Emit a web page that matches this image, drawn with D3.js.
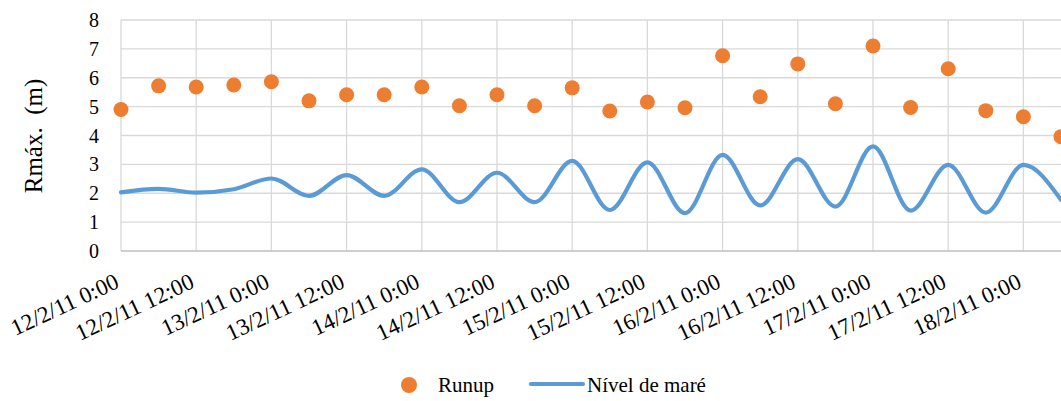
<!DOCTYPE html>
<html><head><meta charset="utf-8">
<script src="https://cdn.jsdelivr.net/npm/d3@7/dist/d3.min.js"></script>
<style>body{margin:0;background:#fff}svg{display:block}</style>
</head><body><svg id="c" width="1061" height="401"></svg>
<script>
const startTime = "2011-02-12T00:00";
const stepHours = 6;
const runup = [4.9,5.72,5.68,5.75,5.86,5.2,5.41,5.41,5.68,5.03,5.41,5.03,5.65,4.85,5.16,4.96,6.76,5.34,6.48,5.1,7.1,4.97,6.31,4.86,4.65,3.96];
const tide = [2.03,2.15,2.02,2.14,2.51,1.91,2.63,1.91,2.83,1.69,2.71,1.69,3.12,1.42,3.07,1.31,3.33,1.58,3.18,1.54,3.62,1.40,2.98,1.33,2.98,1.77];
const xTickLabels = ["12/2/11 0:00","12/2/11 12:00","13/2/11 0:00","13/2/11 12:00","14/2/11 0:00","14/2/11 12:00","15/2/11 0:00","15/2/11 12:00","16/2/11 0:00","16/2/11 12:00","17/2/11 0:00","17/2/11 12:00","18/2/11 0:00"];
const yTicks = [0,1,2,3,4,5,6,7,8];
const yLabel = "Rmáx.  (m)";
const seriesNames = ["Runup","Nível de maré"];

const FONT = '"Liberation Serif","Times New Roman",serif';
const t0 = new Date(startTime);
const times = runup.map((_,i)=>new Date(t0.getTime()+i*stepHours*3600e3));
const svg = d3.select("#c");
const L=121, R=1061, T=20, B=251;
const x = d3.scaleTime().domain([t0, times[times.length-1]]).range([L,R]);
const y = d3.scaleLinear().domain([0,8]).range([B,T]);
const tickTimes = xTickLabels.map((_,i)=>new Date(t0.getTime()+i*12*3600e3));

const g = svg.append("g");
g.selectAll(".hg").data(yTicks.filter(d=>d>0)).join("line")
  .attr("x1",L).attr("x2",R).attr("y1",d=>y(d)).attr("y2",d=>y(d))
  .attr("stroke","#d9d9d9").attr("stroke-width",1.3);
g.selectAll(".vg").data(tickTimes).join("line")
  .attr("x1",d=>x(d)).attr("x2",d=>x(d)).attr("y1",T).attr("y2",B)
  .attr("stroke","#d9d9d9").attr("stroke-width",1.3);
g.append("line").attr("x1",L).attr("x2",R).attr("y1",B).attr("y2",B).attr("stroke","#bfbfbf").attr("stroke-width",1.3);

// y axis
const ya = svg.append("g").attr("transform",`translate(${L},0)`)
  .call(d3.axisLeft(y).tickValues(yTicks).tickSize(0).tickPadding(0).tickFormat(d3.format("d")));
ya.select(".domain").remove();
ya.selectAll("text").attr("x",-22).attr("font-size",20).attr("dy","0.33em")
  .style("font-family",FONT).attr("fill","#000");

// x axis
const xa = svg.append("g").attr("transform",`translate(0,${B})`)
  .call(d3.axisBottom(x).tickValues(tickTimes).tickSize(0).tickFormat((d,i)=>xTickLabels[i]));
xa.select(".domain").remove();
xa.selectAll("text").attr("font-size",23).style("font-family",FONT).attr("fill","#000")
  .attr("text-anchor","end").attr("x",0).attr("y",0).attr("dy",0)
  .attr("transform","translate(-1,36) rotate(-25)");

// y label
svg.append("text").attr("transform",`translate(42,136) rotate(-90)`)
  .attr("text-anchor","middle").attr("font-size",25).style("font-family",FONT)
  .attr("xml:space","preserve").style("white-space","pre").text(yLabel);

// tide line
svg.append("path").datum(tide).attr("fill","none").attr("stroke","#5b9bd5").attr("stroke-width",4.2)
  .attr("stroke-linecap","round")
  .attr("d",d3.line().x((d,i)=>x(times[i])).y(d=>y(d)).curve(d3.curveMonotoneX));

// runup points
svg.append("g").selectAll("circle").data(runup).join("circle")
  .attr("cx",(d,i)=>x(times[i])).attr("cy",d=>y(d)).attr("r",7.5).attr("fill","#ed7d31");

// legend
const lg = svg.append("g");
lg.append("circle").attr("cx",409).attr("cy",385).attr("r",8).attr("fill","#ed7d31");
lg.append("text").attr("x",438).attr("y",392).attr("font-size",21).style("font-family",FONT).text(seriesNames[0]);
lg.append("line").attr("x1",531).attr("x2",583).attr("y1",384).attr("y2",384).attr("stroke","#5b9bd5").attr("stroke-width",4.2).attr("stroke-linecap","round");
lg.append("text").attr("x",587).attr("y",392).attr("font-size",21).style("font-family",FONT).text(seriesNames[1]);
</script></body></html>
